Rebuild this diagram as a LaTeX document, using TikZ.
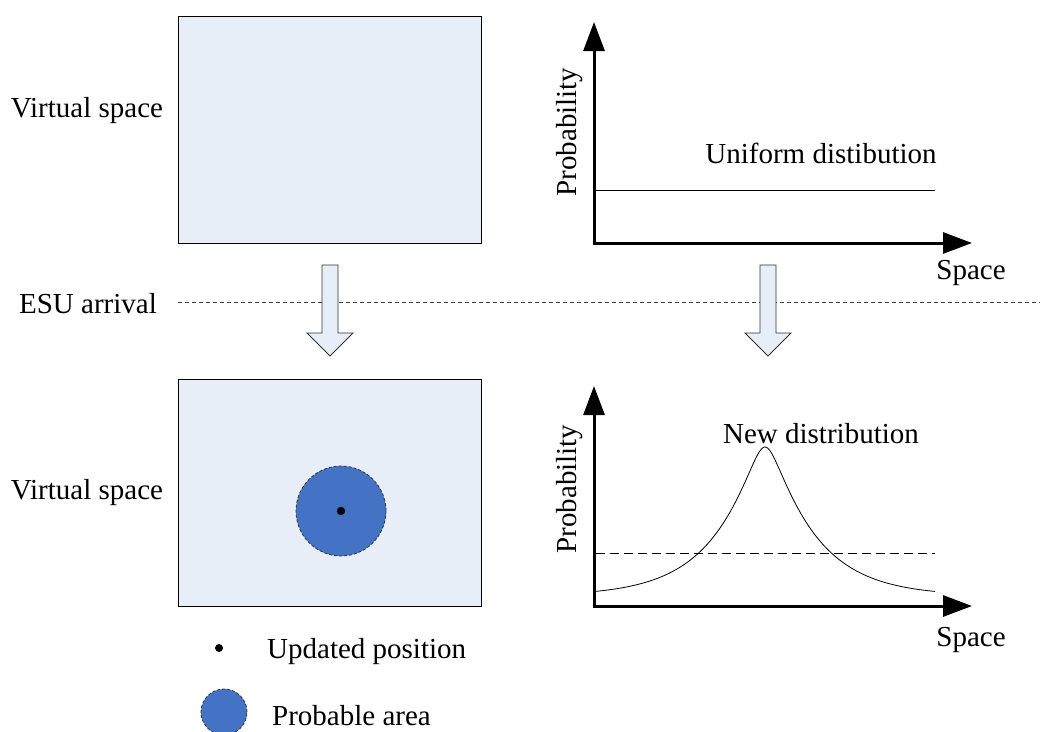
\documentclass[tikz,border=0pt]{standalone}
\usepackage{fontspec}
\setmainfont{Liberation Serif}
\usetikzlibrary{arrows.meta}
\definecolor{spacefill}{HTML}{E8EEF7}
\definecolor{areablue}{HTML}{4472C4}
\begin{document}
\begin{tikzpicture}[x=1pt,y=-1pt,
  lbl/.style={inner sep=0pt,font=\fontsize{29}{34}\selectfont},
  spacebox/.style={draw=black,line width=0.9pt,fill=spacefill},
  axis/.style={line width=3pt,-{Triangle[length=29pt,width=21pt]}},
  downarrow/.style={draw=black!80,line width=0.9pt,fill=spacefill,line join=miter},
  area/.style={fill=areablue,draw=black!80,dashed,dash pattern=on 3pt off 2pt,line width=0.8pt},
  thin curve/.style={line width=0.8pt}]
\useasboundingbox (0,0) rectangle (1040,731);

% virtual spaces
\node[spacebox,minimum width=303pt,minimum height=227pt,inner sep=0pt,anchor=north west] (vs1) at (178,16) {};
\node[spacebox,minimum width=303pt,minimum height=227pt,inner sep=0pt,anchor=north west] (vs2) at (178,379) {};
\node[lbl] (vs1lbl) at (87,111) {Virtual space};
\node[lbl] (vs2lbl) at (87,493) {Virtual space};

% probable area and updated position
\node[area,circle,minimum size=90pt,inner sep=0pt] (pa) at (341,511) {};
\fill (pa.center) circle (4.2pt);

% event line
\node[lbl] (esu) at (88,304) {ESU arrival};
\coordinate (evA) at (178,302);
\coordinate (evB) at (1040,302);
\draw[line width=0.8pt,dash pattern=on 4pt off 3pt,black!75] (evA) -- (evB);

% block arrows
\draw[downarrow] (322,265) -- (338,265) -- (338,333) -- (353,333) -- (330,356) -- (307,333) -- (322,333) -- cycle;
\draw[downarrow] (760,265) -- (776,265) -- (776,333) -- (791,333) -- (768,356) -- (745,333) -- (760,333) -- cycle;

% upper chart
\coordinate (o1) at (594,243);
\coordinate (y1) at (594,22);
\coordinate (x1) at (972,243);
\draw[axis] ([yshift=1.5pt]o1) -- (y1);
\draw[axis] ([xshift=-1.5pt]o1) -- (x1);
\coordinate (u1) at (596,190);
\coordinate (u2) at (935,190);
\draw[thin curve] (u1) -- (u2);
\node[lbl,rotate=90] (p1) at (570,132) {Probability};
\node[lbl] (s1) at (971,273) {Space};
\node[lbl] (ud) at (821,153) {Uniform distibution};

% lower chart
\coordinate (o2) at (594,606);
\coordinate (y2) at (594,386);
\coordinate (x2) at (972,606);
\draw[axis] ([yshift=1.5pt]o2) -- (y2);
\draw[axis] ([xshift=-1.5pt]o2) -- (x2);
\coordinate (d1) at (596,553);
\coordinate (d2) at (935,553);
\draw[thin curve,dash pattern=on 9pt off 5pt] (d1) -- (d2);
% peaked density: exponential tails with a rounded top
\draw[thin curve] plot[domain=596:935,samples=200,smooth]
  (\x,{596-149*exp(-(sqrt(((\x-765)/10)^2+1)-1)*10/46)});
\node[lbl,rotate=90] (p2) at (570,489) {Probability};
\node[lbl] (s2) at (971,640) {Space};
\node[lbl] (nd) at (821,434) {New distribution};

% legend
\fill (219,648) circle (4pt) coordinate (ldot);
\node[lbl,anchor=west] (lupd) at (267,652) {Updated position};
\node[area,circle,minimum size=46pt,inner sep=0pt] (larea) at (224,712) {};
\node[lbl,anchor=west] (lpa) at (272,716) {Probable area};
\end{tikzpicture}
\end{document}
